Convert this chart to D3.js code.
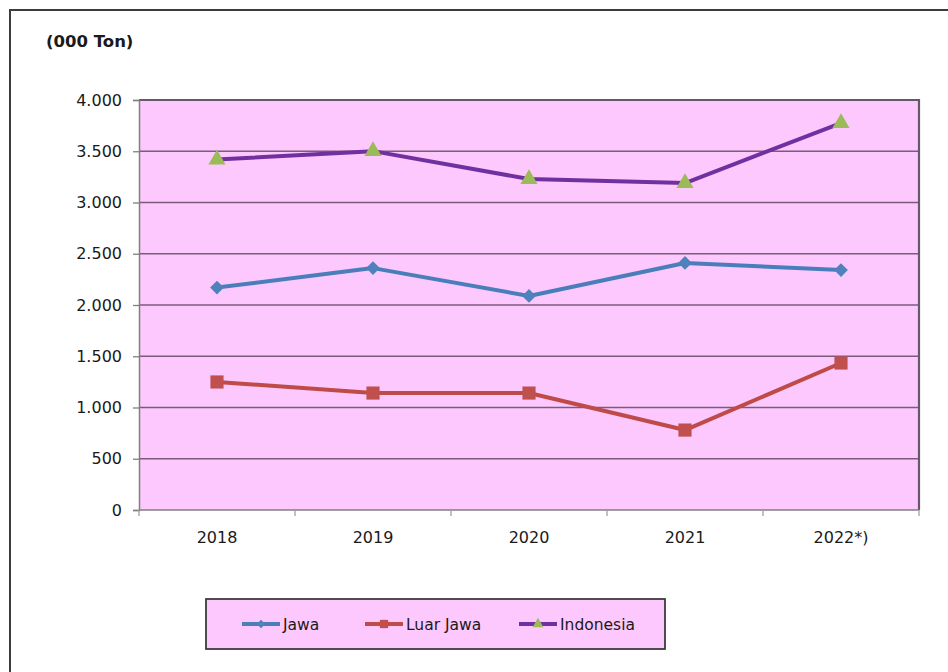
<!DOCTYPE html>
<html>
<head>
<meta charset="utf-8">
<script src="https://cdn.jsdelivr.net/npm/d3@7"></script>
<style>
  body { margin: 0; background: #fff; }
  svg text { font-family: "DejaVu Sans", Verdana, sans-serif; fill: #1a1a1a; }
</style>
</head>
<body>
<div id="chart"></div>
<script>
// data (thousand tonnes)
const years = ["2018", "2019", "2020", "2021", "2022*)"];
const jawa = [2170, 2360, 2088, 2410, 2341];
const luarJawa = [1249, 1141, 1141, 780, 1434];
const indonesia = [3419, 3501, 3229, 3190, 3775];
const yTicks = [0, 500, 1000, 1500, 2000, 2500, 3000, 3500, 4000];

const series = [
    {name: "Jawa", values: jawa, line: "#4a7ebb", fill: "#4f81bd", symbol: d3.symbolDiamond2, size: 120},
    {name: "Luar Jawa", values: luarJawa, line: "#be4b48", fill: "#c0504d", symbol: d3.symbolSquare2, size: 220},
    {name: "Indonesia", values: indonesia, line: "#7030a0", fill: "#9bbb59", symbol: d3.symbolTriangle2, size: 210}
];

const W = 948, H = 672;
const plot = {left: 139, top: 100, right: 919, bottom: 510};

const svg = d3.select("#chart").append("svg")
    .attr("width", W).attr("height", H);

// outer frame (runs off the right/bottom edge like the screenshot)
svg.append("rect")
    .attr("x", 10).attr("y", 10)
    .attr("width", W + 20).attr("height", H + 20)
    .attr("fill", "#fff").attr("stroke", "#3c3c3c").attr("stroke-width", 2);

svg.append("text")
    .attr("x", 46).attr("y", 47)
    .attr("font-size", 16.5).attr("font-weight", "bold")
    .text("(000 Ton)");

const x = d3.scaleBand().domain(years).range([plot.left, plot.right]);
const y = d3.scaleLinear().domain([0, 4000]).range([plot.bottom, plot.top]);

// plot background
svg.append("rect")
    .attr("x", plot.left).attr("y", plot.top)
    .attr("width", plot.right - plot.left).attr("height", plot.bottom - plot.top)
    .attr("fill", "#fdc8fd");

// grid lines
svg.append("g").selectAll("line").data(yTicks.filter(d => d > 0)).join("line")
    .attr("x1", plot.left).attr("x2", plot.right)
    .attr("y1", d => y(d)).attr("y2", d => y(d))
    .attr("stroke", "#7a5c7a").attr("stroke-width", 1.3);

// frame of plot area
svg.append("path")
    .attr("d", `M${plot.left},${plot.top}H${plot.right}V${plot.bottom}`)
    .attr("fill", "none").attr("stroke", "#6a566a").attr("stroke-width", 2.2);

// y axis
const yAxis = svg.append("g")
    .attr("transform", `translate(${plot.left},0)`)
    .call(d3.axisLeft(y).tickValues(yTicks).tickSize(6).tickPadding(11)
        .tickFormat(d => d3.format(",")(d).replace(/,/g, ".")));
yAxis.select(".domain").attr("stroke", "#7f7f7f").attr("stroke-width", 1.5);
yAxis.selectAll(".tick line").attr("stroke", "#7f7f7f").attr("stroke-width", 1.3);
yAxis.selectAll("text").attr("font-size", 16).attr("font-family", "DejaVu Sans").attr("fill", "#1a1a1a");

// x axis: ticks at category boundaries
const xAxis = svg.append("g")
    .attr("transform", `translate(0,${plot.bottom})`);
xAxis.append("line")
    .attr("x1", plot.left).attr("x2", plot.right)
    .attr("stroke", "#7f7f7f").attr("stroke-width", 1.5);
const bounds = years.map(d => x(d)).concat([plot.right]);
xAxis.selectAll("line.tk").data(bounds).join("line")
    .attr("class", "tk")
    .attr("x1", d => d).attr("x2", d => d)
    .attr("y1", 0).attr("y2", 6)
    .attr("stroke", "#a0a0a0").attr("stroke-width", 1.3);
xAxis.selectAll("text").data(years).join("text")
    .attr("x", d => x(d) + x.bandwidth() / 2)
    .attr("y", 33)
    .attr("text-anchor", "middle")
    .attr("font-size", 16)
    .text(d => d);

// lines and markers
const line = d3.line()
    .x((d, i) => x(years[i]) + x.bandwidth() / 2)
    .y(d => y(d));

series.forEach(s => {
    svg.append("path")
        .datum(s.values)
        .attr("d", line)
        .attr("fill", "none")
        .attr("stroke", s.line)
        .attr("stroke-width", 4)
        .attr("stroke-linejoin", "round");
    svg.append("g").selectAll("path").data(s.values).join("path")
        .attr("transform", (d, i) => `translate(${x(years[i]) + x.bandwidth() / 2},${y(d)})`)
        .attr("d", d3.symbol(s.symbol, s.size))
        .attr("fill", s.fill);
});

// legend
const lg = svg.append("g");
lg.append("rect")
    .attr("x", 206).attr("y", 599)
    .attr("width", 459).attr("height", 50)
    .attr("fill", "#fdc8fd").attr("stroke", "#3c3c3c").attr("stroke-width", 1.8);

const legendX = [242, 365, 519];
series.forEach((s, i) => {
    const g = lg.append("g").attr("transform", `translate(${legendX[i]},624)`);
    g.append("line")
        .attr("x1", 0).attr("x2", 38)
        .attr("stroke", s.line).attr("stroke-width", 4);
    g.append("path")
        .attr("transform", "translate(19,0)")
        .attr("d", d3.symbol(s.symbol, s.size * 0.4))
        .attr("fill", s.fill);
    g.append("text")
        .attr("x", 41).attr("y", 6)
        .attr("font-size", 15.5)
        .text(s.name);
});
</script>
</body>
</html>
